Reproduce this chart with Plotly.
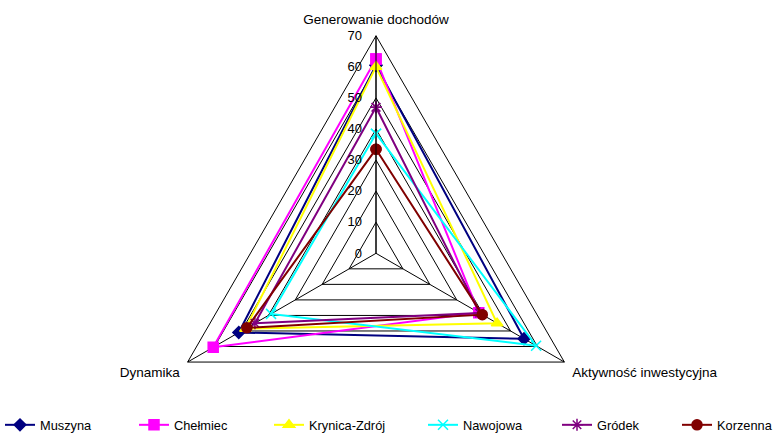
import plotly.graph_objects as go

categories = ["Generowanie dochodów", "Aktywność inwestycyjna", "Dynamika"]
series_names = ["Muszyna", "Chełmiec", "Krynica-Zdrój", "Nawojowa", "Gródek", "Korzenna"]
muszyna = [60.5, 55, 51]
chelmiec = [62.5, 38.2, 60.5]
krynica = [60, 45, 48.5]
nawojowa = [38.5, 59.5, 39]
grodek = [47, 38.5, 45]
korzenna = [33.5, 39.5, 48]
radial_ticks = [0, 10, 20, 30, 40, 50, 60, 70]

values = [muszyna, chelmiec, krynica, nawojowa, grodek, korzenna]
colors = ["#000080", "#FF00FF", "#FFFF00", "#00FFFF", "#800080", "#800000"]
symbols = ["diamond", "square", "triangle-up", "x-thin-open", "asterisk-open", "circle"]
sizes = [9, 10, 10, 10, 10, 10]
legend_x_px = [0, 134, 269, 423, 557, 677]

W, H = 775, 480
cx, cy, R = 376, 253.3, 217.5
FONT = "Liberation Sans, Arial"

fig = go.Figure()
legend_layouts = {}
for i, (name, vals, c, s, sz, lx) in enumerate(zip(series_names, values, colors, symbols, sizes, legend_x_px)):
    lname = "legend" if i == 0 else f"legend{i + 1}"
    fig.add_trace(go.Scatterpolar(
        r=vals + vals[:1],
        theta=categories + categories[:1],
        mode="lines+markers",
        name=name,
        legend=lname,
        showlegend=True,
        line=dict(color=c, width=2),
        marker=dict(color=c, symbol=s, size=sz, line=dict(color=c, width=1.5)),
    ))
    legend_layouts[lname] = dict(
        orientation="h", x=lx / W, xanchor="left", y=(H - 425) / H, yanchor="middle",
        font=dict(family=FONT, size=12.8, color="black"), itemwidth=30,
        bgcolor="rgba(0,0,0,0)", visible=True,
    )

fig.update_layout(
    width=W, height=H,
    showlegend=True,
    margin=dict(l=0, r=0, t=0, b=0, autoexpand=False),
    paper_bgcolor="white",
    plot_bgcolor="white",
    font=dict(family=FONT, size=13.5, color="black"),
    polar=dict(
        domain=dict(x=[(cx - R) / W, (cx + R) / W], y=[(H - cy - R) / H, (H - cy + R) / H]),
        bgcolor="white",
        gridshape="linear",
        radialaxis=dict(
            range=[0, 70], tickvals=radial_ticks, angle=90, tickangle=90,
            side="counterclockwise",
            showline=True, linecolor="black", linewidth=1,
            gridcolor="black", gridwidth=1,
            ticks="outside", ticklen=9, tickcolor="rgba(0,0,0,0)",
            tickfont=dict(family=FONT, size=13, color="black"),
        ),
        angularaxis=dict(
            rotation=90, direction="clockwise",
            showline=True, linecolor="black", linewidth=1,
            gridcolor="black", gridwidth=1,
            ticks="outside", ticklen=6, tickcolor="rgba(0,0,0,0)",
            tickfont=dict(family=FONT, size=13.5, color="black"),
        ),
    ),
    **legend_layouts,
)

fig.write_html(
    "out.html",
    config={"displayModeBar": False},
    post_script="document.documentElement.style.overflow='hidden';document.body.style.overflow='hidden';document.body.style.margin='0';",
)
